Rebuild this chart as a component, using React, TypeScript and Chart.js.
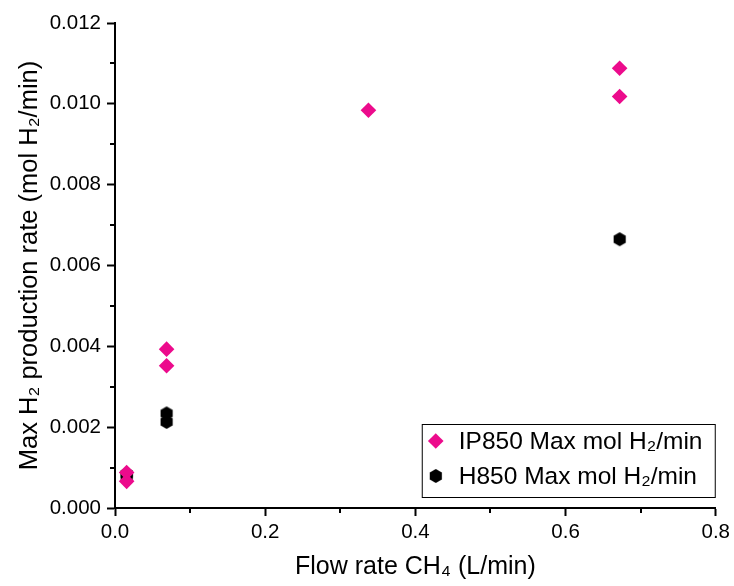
import React, { useEffect, useRef } from 'react';
import { Chart, registerables } from 'chart.js';

Chart.register(...registerables);

// Flow rate CH4 (L/min) and max H2 production rate (mol H2/min)
const ipFlow = [0.0155, 0.0155, 0.0687, 0.0687, 0.3375, 0.672, 0.672];
const ipRate = [0.00088, 0.00066, 0.00393, 0.00352, 0.00984, 0.01088, 0.01018];
const hFlow = [0.0155, 0.0155, 0.0687, 0.0687, 0.672];
const hRate = [0.00084, 0.00077, 0.00234, 0.00213, 0.00665];

const seriesLabels = ['IP850 Max mol H₂/min', 'H850 Max mol H₂/min'];
const xTitle = 'Flow rate CH₄ (L/min)';
const yTitle = 'Max H₂ production rate (mol H₂/min)';

const PINK = '#EC0B8C';
const FONT = "'Liberation Sans', Arial, sans-serif";

function makeHexagon(color: string): HTMLCanvasElement {
  const c = document.createElement('canvas');
  c.width = 14;
  c.height = 16;
  const g = c.getContext('2d')!;
  const R = 7;
  const cx = 7, cy = 8;
  g.beginPath();
  for (let i = 0; i < 6; i++) {
    const a = -Math.PI / 2 + (i * Math.PI) / 3;
    const px = cx + R * Math.cos(a);
    const py = cy + R * Math.sin(a);
    if (i === 0) g.moveTo(px, py);
    else g.lineTo(px, py);
  }
  g.closePath();
  g.fillStyle = color;
  g.fill();
  return c;
}

const minorTicksPlugin = {
  id: 'minorTicks',
  afterDraw(chart: any) {
    const ctx = chart.ctx;
    ctx.save();
    ctx.strokeStyle = '#000';
    ctx.lineWidth = 2;
    const xs = chart.scales.x;
    const ys = chart.scales.y;
    xs.ticks.forEach((t: any) => {
      if (Math.round(t.value * 10) % 2 !== 0) {
        const px = Math.round(xs.getPixelForValue(t.value));
        ctx.beginPath();
        ctx.moveTo(px, xs.top);
        ctx.lineTo(px, xs.top + 5);
        ctx.stroke();
      }
    });
    ys.ticks.forEach((t: any) => {
      if (Math.round(t.value * 1000) % 2 !== 0) {
        const py = Math.round(ys.getPixelForValue(t.value));
        ctx.beginPath();
        ctx.moveTo(ys.right, py);
        ctx.lineTo(ys.right - 5, py);
        ctx.stroke();
      }
    });
    ctx.restore();
  },
};

const boxLegendPlugin = {
  id: 'boxLegend',
  afterDraw(chart: any) {
    const ctx = chart.ctx;
    const area = chart.chartArea;
    const boxW = 293, boxH = 73;
    const bx = area.right - 1 - boxW;
    const by = area.bottom - 11 - boxH;
    ctx.save();
    ctx.fillStyle = '#fff';
    ctx.fillRect(bx, by, boxW, boxH);
    ctx.strokeStyle = '#000';
    ctx.lineWidth = 1;
    ctx.strokeRect(bx + 0.5, by + 0.5, boxW, boxH);
    ctx.font = `24.5px ${FONT}`;
    ctx.textBaseline = 'middle';
    ctx.fillStyle = '#000';
    chart.data.datasets.forEach((ds: any, i: number) => {
      const my = by + 17 + i * 35;
      const mx = bx + 14;
      if (ds.pointStyle === 'rectRot') {
        const r = ds.pointRadius;
        ctx.beginPath();
        ctx.moveTo(mx - r, my);
        ctx.lineTo(mx, my - r);
        ctx.lineTo(mx + r, my);
        ctx.lineTo(mx, my + r);
        ctx.closePath();
        ctx.fillStyle = ds.backgroundColor;
        ctx.fill();
      } else {
        const img = ds.pointStyle as HTMLCanvasElement;
        ctx.drawImage(img, mx - img.width / 2, my - img.height / 2);
      }
      ctx.fillStyle = '#000';
      ctx.fillText(ds.label, bx + 37, my + 1);
    });
    ctx.restore();
  },
};

export default function App() {
  const ref = useRef<HTMLCanvasElement>(null);

  useEffect(() => {
    document.body.style.margin = '0';
    const hex = makeHexagon('#000');
    const chart = new Chart(ref.current!, {
      type: 'scatter',
      data: {
        datasets: [
          {
            label: seriesLabels[0],
            data: ipFlow.map((x, i) => ({ x, y: ipRate[i] })),
            pointStyle: 'rectRot',
            pointRadius: 7.8,
            pointHoverRadius: 7.8,
            backgroundColor: PINK,
            borderColor: PINK,
            borderWidth: 0,
          },
          {
            label: seriesLabels[1],
            data: hFlow.map((x, i) => ({ x, y: hRate[i] })),
            pointStyle: hex as any,
            pointRadius: 7,
            backgroundColor: '#000',
            borderColor: '#000',
            borderWidth: 0,
          },
        ],
      },
      options: {
        responsive: false,
        animation: false,
        devicePixelRatio: 1,
        layout: { padding: { top: 23, right: 17, left: 0, bottom: 0 } },
        plugins: {
          legend: { display: false },
          tooltip: { enabled: false },
        },
        scales: {
          x: {
            type: 'linear',
            min: 0,
            max: 0.8,
            afterFit: (s: any) => {
              s.height = 78;
            },
            border: { display: true, color: '#000', width: 2 },
            grid: {
              display: true,
              drawOnChartArea: false,
              drawTicks: true,
              tickLength: 8,
              tickWidth: 2,
              tickColor: (c: any) =>
                Math.round(c.tick.value * 10) % 2 === 0 ? '#000' : 'rgba(0,0,0,0)',
            },
            ticks: {
              stepSize: 0.1,
              autoSkip: false,
              maxRotation: 0,
              padding: 4,
              color: '#000',
              font: { family: FONT, size: 20.5 },
              callback: (v: any) => (Math.round(v * 10) % 2 === 0 ? Number(v).toFixed(1) : ''),
            },
            title: {
              display: true,
              text: xTitle,
              color: '#000',
              font: { family: FONT, size: 25 },
              padding: { top: 0, bottom: 4 },
            },
          },
          y: {
            type: 'linear',
            min: 0,
            max: 0.012,
            afterFit: (s: any) => {
              s.width = 115;
            },
            border: { display: true, color: '#000', width: 2 },
            grid: {
              display: true,
              drawOnChartArea: false,
              drawTicks: true,
              tickLength: 8,
              tickWidth: 2,
              tickColor: (c: any) =>
                Math.round(c.tick.value * 1000) % 2 === 0 ? '#000' : 'rgba(0,0,0,0)',
            },
            ticks: {
              stepSize: 0.001,
              autoSkip: false,
              padding: 6,
              color: '#000',
              font: { family: FONT, size: 20.5 },
              callback: (v: any) => (Math.round(v * 1000) % 2 === 0 ? Number(v).toFixed(3) : ''),
            },
            title: {
              display: true,
              text: yTitle,
              color: '#000',
              font: { family: FONT, size: 25.5 },
              padding: { top: 15, bottom: 0 },
            },
          },
        },
      },
      plugins: [minorTicksPlugin, boxLegendPlugin],
    });
    return () => chart.destroy();
  }, []);

  return (
    <div style={{ width: 734, height: 586 }}>
      <canvas ref={ref} width={734} height={586} />
    </div>
  );
}
